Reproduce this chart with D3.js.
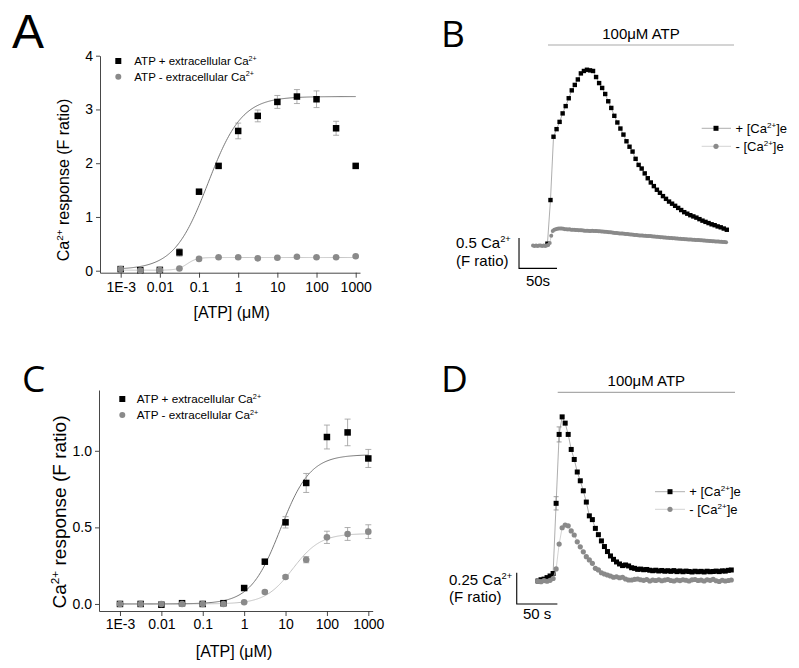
<!DOCTYPE html>
<html><head><meta charset="utf-8">
<script src="https://cdn.jsdelivr.net/npm/d3@7"></script>
<style>body{margin:0;background:#fff;}</style>
</head><body>
<svg id="c" width="799" height="668"></svg>
<script>
// ---------------- DATA ----------------
const concentrations = [0.001, 0.00316, 0.01, 0.0316, 0.1, 0.316, 1, 3.16, 10, 31.6, 100, 316, 1000];
const concTickValues = [0.001, 0.01, 0.1, 1, 10, 100, 1000];
const concTickLabels = ["1E-3", "0.01", "0.1", "1", "10", "100", "1000"];
const legendPlus = "ATP + extracellular Ca";
const legendMinus = "ATP - extracellular Ca";

// Panel A
const aPlusCa     = [0.03, 0.01, 0.015, 0.34, 1.47, 1.95, 2.60, 2.88, 3.14, 3.24, 3.19, 2.65, 1.95];
const aPlusCaErr  = [0.02, 0.01, 0.02, 0.07, 0.03, 0.03, 0.146, 0.11, 0.12, 0.13, 0.155, 0.13, 0.02];
const aMinusCa    = [0.03, 0.005, 0.01, 0.04, 0.22, 0.25, 0.25, 0.23, 0.24, 0.26, 0.25, 0.25, 0.27];
const aMinusCaErr = [0.01, 0.01, 0.01, 0.01, 0.015, 0.015, 0.015, 0.015, 0.015, 0.015, 0.015, 0.015, 0.015];
const aFitPlus  = {bottom: 0.02, top: 3.24, ec50: 0.17, hill: 1.0};
const aFitMinus = {bottom: 0.01, top: 0.245, ec50: 0.05, hill: 3.5};
const aYTicks = [0, 1, 2, 3, 4];
const aYMinor = [0.5, 1.5, 2.5, 3.5];

// Panel C
const cPlusCa     = [0.0, 0.0, -0.005, 0.005, 0.0, 0.005, 0.104, 0.276, 0.533, 0.79, 1.09, 1.12, 0.95];
const cPlusCaErr  = [0.005, 0.005, 0.005, 0.005, 0.005, 0.005, 0.01, 0.012, 0.037, 0.062, 0.078, 0.087, 0.059];
const cMinusCa    = [0.0, 0.0, 0.0, 0.0, 0.0, 0.0, 0.011, 0.078, 0.176, 0.289, 0.435, 0.457, 0.472];
const cMinusCaErr = [0.003, 0.003, 0.003, 0.003, 0.003, 0.003, 0.005, 0.008, 0.01, 0.02, 0.04, 0.042, 0.045];
const cFitPlus  = {bottom: 0.0, top: 0.975, ec50: 7.5, hill: 1.2};
const cFitMinus = {bottom: 0.0, top: 0.46, ec50: 15, hill: 1.3};
const cYTicks = [0, 0.5, 1.0];
const cYMinor = [0.25, 0.75, 1.25];

// Panel B (time in s, response in F ratio above baseline)
const bPlusT0 = 19, bPlusDt = 4;
const bPlusCa = [0.03,0.75,1.795,1.92,2.04,2.18,2.30,2.43,2.56,2.65,2.74,2.84,2.88,2.90,2.89,2.88,2.78,2.68,2.60,2.50,
  2.38,2.27,2.14,2.03,1.93,1.83,1.72,1.63,1.55,1.43,1.33,1.27,1.19,1.11,1.04,0.98,0.92,0.87,0.815,0.77,
  0.725,0.69,0.655,0.62,0.585,0.55,0.525,0.50,0.48,0.46,0.435,0.41,0.39,0.37,0.35,0.335,0.315,0.30,0.28,0.26];
const bMinusT0 = 0, bMinusDt = 2;
const bMinusCa = [0.0,-0.01,0.0,-0.01,0.0,0.0,-0.01,0.0,-0.01,0.0,0.01,
  0.04,0.16,0.24,0.26,0.27,0.275,0.28,0.28,0.28,0.275,
  0.27,0.27,0.265,0.27,0.26,0.26,0.26,0.255,0.255,0.25,0.25,
  0.25,0.248,0.245,0.245,0.245,0.24,0.24,0.242,0.24,0.238,0.24,
  0.237,0.235,0.232,0.23,0.228,0.225,0.222,0.22,0.218,0.215,0.212,0.208,0.205,
  0.203,0.2,0.198,0.196,0.193,0.19,0.188,0.186,0.183,0.18,0.178,0.175,0.172,0.17,0.167,
  0.166,0.164,0.162,0.16,0.158,0.157,0.155,
  0.152,0.15,0.148,0.146,0.143,0.14,0.138,0.136,0.133,0.13,0.128,0.126,0.124,0.122,0.12,0.118,0.116,0.114,0.112,0.11,
  0.108,0.106,0.105,0.103,0.101,0.099,0.097,0.096,0.094,0.092,0.09,0.089,0.087,0.085,0.083,
  0.081,0.08,0.078,0.076,0.074,0.072,0.07,0.068,0.066,0.064,0.062,0.06,0.058,0.057,0.055];
const bStim = [19.7, 264.5];

// Panel D
const dT0 = 2.46, dDt = 3.715;
const dPlusCa = [0.0,0.01,0.015,0.027,0.04,0.06,0.62,1.17,1.31,1.26,1.17,1.05,0.97,0.87,0.80,0.72,0.63,0.52,0.49,0.42,
  0.37,0.32,0.275,0.235,0.20,0.173,0.152,0.136,0.123,0.128,0.12,0.106,0.101,0.093,
  0.095,0.09,0.092,0.086,0.082,0.086,0.08,0.084,0.078,0.082,0.077,0.083,0.075,0.08,0.074,0.079,0.076,0.072,0.078,0.074,
  0.077,0.072,0.078,0.074,0.076,0.079,0.075,0.081,0.079,0.085,0.088];
const dPlusErr = [[6, 0.053], [7, 0.06]];
const dMinusCa = [0.0,-0.005,0.003,-0.002,0.005,0.02,0.096,0.295,0.425,0.447,0.44,0.40,0.367,0.313,0.273,0.233,0.194,0.168,0.141,0.101,
  0.088,0.066,0.056,0.048,0.04,0.03,0.034,0.026,0.03,0.016,0.008,0.008,0.013,0.016,
  0.01,0.005,0.012,0.0,0.008,0.004,0.01,0.002,0.007,0.012,0.004,0.0,0.008,0.003,0.01,0.006,0.0,0.009,0.012,0.004,
  0.007,0.0,0.01,0.005,0.013,0.002,-0.004,0.006,0.0,0.004,0.008];
const dStim = [26.7, 244.8];

// ---------------- DRAWING ----------------
const FONT = '"Liberation Sans", Arial, sans-serif';
const LETTER_FONT = '"Open Sans", "Liberation Sans", sans-serif';
const GREY = "#8a8a8a";
const svg = d3.select("#c");

function supText(parent, x, y, parts, size, anchor) {
  const t = parent.append("text").attr("x", x).attr("y", y)
    .attr("font-family", FONT).attr("font-size", size).attr("fill", "#000")
    .attr("text-anchor", anchor || "start");
  const shift = size * 0.38;
  let raised = false;
  parts.forEach(p => {
    if (typeof p === "string") {
      const ts = t.append("tspan").text(p);
      if (raised) { ts.attr("dy", shift); raised = false; }
    } else {
      t.append("tspan").text(p.sup).attr("font-size", size * 0.62).attr("dy", -shift);
      raised = true;
    }
  });
  return t;
}

function hill(f, x) { return f.bottom + (f.top - f.bottom) / (1 + Math.pow(f.ec50 / x, f.hill)); }

function drawDose(p) {
  const g = svg.append("g");
  const x = d3.scaleLog().domain([Math.pow(10, p.logDom[0]), Math.pow(10, p.logDom[1])]).range(p.xRange);
  const y = d3.scaleLinear().domain(p.yDomain).range(p.yRange);
  const minor = [];
  for (let d = -4; d <= 3; d++) for (let m = 2; m <= 9; m++) {
    const v = m * Math.pow(10, d);
    if (v >= x.domain()[0] && v <= x.domain()[1]) minor.push(v);
  }
  const xa = g.append("g").attr("transform", `translate(0,${p.yRange[0]})`);
  xa.call(d3.axisBottom(x).tickValues(minor).tickFormat("").tickSize(2.5).tickSizeOuter(0));
  xa.call(d3.axisBottom(x).tickValues(concTickValues).tickFormat((d, i) => concTickLabels[i])
    .tickSize(5).tickPadding(p.xPad).tickSizeOuter(0));
  xa.attr("font-family", FONT).attr("font-size", p.tickFont);
  const ya = g.append("g").attr("transform", `translate(${p.xRange[0]},0)`);
  ya.call(d3.axisLeft(y).tickValues(p.yMinor).tickFormat("").tickSize(2.5).tickSizeOuter(0));
  ya.call(d3.axisLeft(y).tickValues(p.yTicks).tickFormat(p.yFmt).tickSize(4).tickPadding(3).tickSizeOuter(0));
  ya.attr("font-family", FONT).attr("font-size", p.tickFont);
  g.selectAll(".domain, .tick line").attr("stroke", "#333").attr("stroke-width", 0.9);

  // fits
  const fx = d3.range(0, 241).map(i => Math.pow(10, -3 + 6 * i / 240));
  const line = d3.line().x(d => x(d[0])).y(d => y(d[1]));
  g.append("path").datum(fx.map(v => [v, hill(p.fitMinus, v)])).attr("d", line)
    .attr("fill", "none").attr("stroke", "#c4c4c4").attr("stroke-width", 1);
  g.append("path").datum(fx.map(v => [v, hill(p.fitPlus, v)])).attr("d", line)
    .attr("fill", "none").attr("stroke", "#6a6a6a").attr("stroke-width", 0.9);

  // error bars
  function errs(vals, es) {
    concentrations.forEach((c, i) => {
      const cx = x(c), y1 = y(vals[i] - es[i]), y2 = y(vals[i] + es[i]);
      g.append("line").attr("x1", cx).attr("x2", cx).attr("y1", y1).attr("y2", y2).attr("stroke", "#999").attr("stroke-width", 0.8);
      [y1, y2].forEach(yy => g.append("line").attr("x1", cx - 3).attr("x2", cx + 3).attr("y1", yy).attr("y2", yy).attr("stroke", "#999").attr("stroke-width", 0.8));
    });
  }
  errs(p.minus, p.minusErr);
  errs(p.plus, p.plusErr);
  const s = p.sq;
  g.selectAll(null).data(concentrations).enter().append("rect")
    .attr("x", (c) => x(c) - s / 2).attr("y", (c, i) => y(p.plus[i]) - s / 2)
    .attr("width", s).attr("height", s).attr("fill", "#000");
  g.selectAll(null).data(concentrations).enter().append("circle")
    .attr("cx", c => x(c)).attr("cy", (c, i) => y(p.minus[i])).attr("r", p.r).attr("fill", GREY);

  // legend
  const L = p.legend;
  g.append("rect").attr("x", L.x - L.sq / 2).attr("y", L.y - L.sq / 2).attr("width", L.sq).attr("height", L.sq).attr("fill", "#000");
  g.append("circle").attr("cx", L.x).attr("cy", L.y + L.dy).attr("r", L.r).attr("fill", GREY);
  supText(g, L.tx, L.y + L.font * 0.36, [legendPlus, {sup: "2+"}], L.font);
  supText(g, L.tx, L.y + L.dy + L.font * 0.36, [legendMinus, {sup: "2+"}], L.font);

  // titles
  supText(g, p.xTitle[0], p.xTitle[1], ["[ATP] (\u03bcM)"], p.xTitle[2], "middle");
  const yt = supText(g, 0, 0, ["Ca", {sup: "2+"}, " response (F ratio)"], p.yTitle[2], "middle");
  yt.attr("transform", `translate(${p.yTitle[0]},${p.yTitle[1]}) rotate(-90)`);
  g.append("text").attr("x", p.letter[0]).attr("y", p.letter[1]).attr("font-family", p.letter[4] || LETTER_FONT)
    .attr("font-size", p.letter[2]).text(p.letter[3]);
}

drawDose({
  xRange: [100, 360], logDom: [-3.528, 3.11], yDomain: [-0.037, 4], yRange: [272.7, 55.7],
  yTicks: aYTicks, yMinor: aYMinor, yFmt: d3.format("d"), tickFont: 14, xPad: 4,
  plus: aPlusCa, plusErr: aPlusCaErr, minus: aMinusCa, minusErr: aMinusCaErr,
  fitPlus: aFitPlus, fitMinus: aFitMinus, sq: 6.5, r: 3.3,
  legend: {x: 118.3, y: 61, dy: 15.7, tx: 134.3, font: 11.5, sq: 6, r: 3},
  xTitle: [231.7, 318, 16], yTitle: [69, 180, 16], letter: [12, 48.3, 48, "A", FONT]
});
drawDose({
  xRange: [99, 372.7], logDom: [-3.507, 3.106], yDomain: [-0.046, 1.397], yRange: [611, 390],
  yTicks: cYTicks, yMinor: cYMinor, yFmt: d3.format(".1f"), tickFont: 14, xPad: 3,
  plus: cPlusCa, plusErr: cPlusCaErr, minus: cMinusCa, minusErr: cMinusCaErr,
  fitPlus: cFitPlus, fitMinus: cFitMinus, sq: 6.5, r: 3.3,
  legend: {x: 122.3, y: 399, dy: 16, tx: 136.7, font: 11.7, sq: 6, r: 3},
  xTitle: [234, 657, 16], yTitle: [66, 512, 19], letter: [22, 391.7, 37, "C"]
});

function drawTrace(p) {
  const g = svg.append("g");
  const x = d3.scaleLinear().domain(p.tDom).range(p.xRange);
  const y = d3.scaleLinear().domain(p.vDom).range(p.yRange);
  const plus = p.plus.map((v, i) => [p.plusT0 + p.plusDt * i, v]);
  const minus = p.minus.map((v, i) => [p.minusT0 + p.minusDt * i, v]);
  const line = d3.line().x(d => x(d[0])).y(d => y(d[1]));
  // stimulus bar
  g.append("line").attr("x1", x(p.stim[0])).attr("x2", x(p.stim[1])).attr("y1", p.stimY).attr("y2", p.stimY)
    .attr("stroke", "#aaa").attr("stroke-width", 1.2);
  supText(g, (x(p.stim[0]) + x(p.stim[1])) / 2, p.stimY - 6, ["100\u03bcM ATP"], 15, "middle");
  // black series
  g.append("path").datum(plus).attr("d", line).attr("fill", "none").attr("stroke", "#999").attr("stroke-width", 0.8);
  (p.plusErr || []).forEach(([i, e]) => {
    const cx = x(plus[i][0]);
    const y1 = y(plus[i][1] - e), y2 = y(plus[i][1] + e);
    g.append("line").attr("x1", cx).attr("x2", cx).attr("y1", y1).attr("y2", y2).attr("stroke", "#888").attr("stroke-width", 0.8);
    [y1, y2].forEach(yy => g.append("line").attr("x1", cx - 2.5).attr("x2", cx + 2.5).attr("y1", yy).attr("y2", yy).attr("stroke", "#888").attr("stroke-width", 0.8));
  });
  g.selectAll(null).data(plus).enter().append("rect")
    .attr("x", d => x(d[0]) - p.sq / 2).attr("y", d => y(d[1]) - p.sq / 2)
    .attr("width", p.sq).attr("height", p.sq).attr("fill", "#000");
  // grey series
  g.append("path").datum(minus).attr("d", line).attr("fill", "none").attr("stroke", "#c8c8c8").attr("stroke-width", 0.8);
  g.selectAll(null).data(minus).enter().append("circle")
    .attr("cx", d => x(d[0])).attr("cy", d => y(d[1])).attr("r", p.r).attr("fill", GREY);
  // scale bar
  const sb = p.scale;
  const x0 = x(sb.t), x1 = x(sb.t + 50), yb = y(sb.v), yt = y(sb.v + sb.dv);
  g.append("path").attr("d", `M${x0},${yt}V${yb}H${x1}`).attr("fill", "none").attr("stroke", "#000").attr("stroke-width", 1.1);
  supText(g, sb.lx, sb.l1y, [sb.label, {sup: "2+"}], 15);
  supText(g, sb.lx, sb.l2y, ["(F ratio)"], 15);
  supText(g, (x0 + x1) / 2, sb.l3y, [sb.tlabel], 15, "middle");
  // legend
  const L = p.legend;
  g.append("line").attr("x1", L.x1).attr("x2", L.x2).attr("y1", L.y).attr("y2", L.y).attr("stroke", "#999").attr("stroke-width", 0.8);
  g.append("rect").attr("x", L.xm - 2.5).attr("y", L.y - 2.5).attr("width", 5).attr("height", 5).attr("fill", "#000");
  g.append("line").attr("x1", L.x1).attr("x2", L.x2).attr("y1", L.y + L.dy).attr("y2", L.y + L.dy).attr("stroke", "#c8c8c8").attr("stroke-width", 0.8);
  g.append("circle").attr("cx", L.xm).attr("cy", L.y + L.dy).attr("r", 2.6).attr("fill", GREY);
  supText(g, L.tx, L.y + 4.6, ["+ [Ca", {sup: "2+"}, "]e"], 13);
  supText(g, L.tx, L.y + L.dy + 4.6, ["- [Ca", {sup: "2+"}, "]e"], 13);
  g.append("text").attr("x", p.letter[0]).attr("y", p.letter[1]).attr("font-family", LETTER_FONT)
    .attr("font-size", p.letter[2]).text(p.letter[3]);
}

drawTrace({
  tDom: [0, 255], xRange: [533, 726.8], vDom: [0, 3], yRange: [245.5, 63.7],
  plus: bPlusCa, plusT0: bPlusT0, plusDt: bPlusDt, minus: bMinusCa, minusT0: bMinusT0, minusDt: bMinusDt,
  sq: 4.4, r: 2.0, stim: bStim, stimY: 45,
  scale: {t: -18.4, v: -0.377, dv: 0.5, label: "0.5 Ca", tlabel: "50s", lx: 456, l1y: 248, l2y: 265.5, l3y: 286},
  legend: {x1: 701.7, x2: 731, xm: 716, y: 128.3, dy: 18, tx: 735.5},
  letter: [441, 46.7, 37, "B"]
});
drawTrace({
  tDom: [0, 240], xRange: [536, 731.1], vDom: [0, 1.4], yRange: [581, 405.6],
  plus: dPlusCa, plusT0: dT0, plusDt: dDt, minus: dMinusCa, minusT0: dT0, minusDt: dDt, plusErr: dPlusErr,
  sq: 5, r: 2.6, stim: dStim, stimY: 392.3,
  scale: {t: -23.7, v: -0.184, dv: 0.25, label: "0.25 Ca", tlabel: "50 s", lx: 449, l1y: 585, l2y: 602, l3y: 619},
  legend: {x1: 655, x2: 685, xm: 670, y: 491.7, dy: 17.6, tx: 689.3},
  letter: [441, 391.7, 37, "D"]
});
</script>
</body></html>
